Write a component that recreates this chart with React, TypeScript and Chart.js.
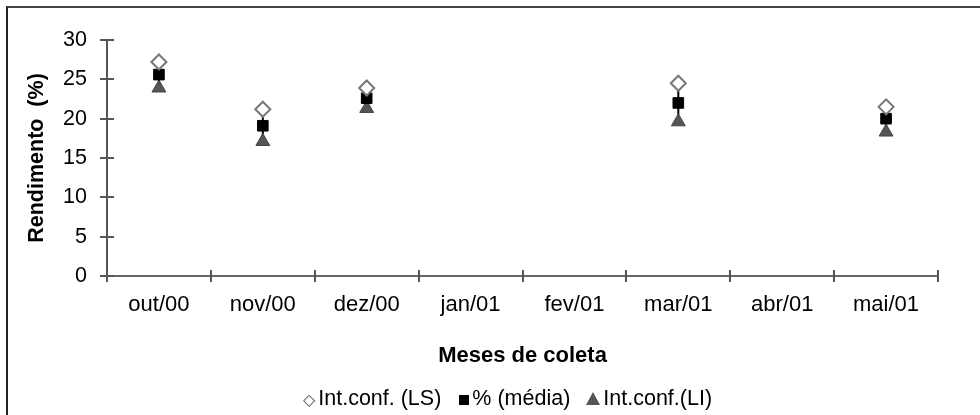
import React, { useEffect, useRef } from "react";
import { Chart, registerables } from "chart.js";

Chart.register(...registerables);

const categories = ["out/00", "nov/00", "dez/00", "jan/01", "fev/01", "mar/01", "abr/01", "mai/01"];
const upperLS = [27.2, 21.2, 23.9, null, null, 24.5, null, 21.5];
const mean = [25.6, 19.1, 22.6, null, null, 22.0, null, 20.0];
const lowerLI = [23.9, 17.1, 21.3, null, null, 19.6, null, 18.3];
const yTicks = [0, 5, 10, 15, 20, 25, 30];
const legendLabels = ["Int.conf. (LS)", "% (média)", "Int.conf.(LI)"];

const FONT = "'Liberation Sans', Arial, sans-serif";

const rangeLines = {
  id: "rangeLines",
  beforeDatasetsDraw(chart: any) {
    const { ctx, scales } = chart;
    const x = scales.x;
    const y = scales.y;
    ctx.save();
    ctx.strokeStyle = "#000";
    ctx.lineWidth = 2;
    for (let i = 0; i < categories.length; i++) {
      const hi = upperLS[i];
      const lo = lowerLI[i];
      if (hi == null || lo == null) continue;
      const px = x.getPixelForValue(i);
      ctx.beginPath();
      ctx.moveTo(px, y.getPixelForValue(hi));
      ctx.lineTo(px, y.getPixelForValue(lo));
      ctx.stroke();
    }
    ctx.restore();
  },
};

const crossTicks = {
  id: "crossTicks",
  afterDraw(chart: any) {
    const { ctx, scales, chartArea } = chart;
    const x = scales.x;
    const y = scales.y;
    ctx.save();
    ctx.strokeStyle = "#555";
    ctx.lineWidth = 2;
    ctx.beginPath();
    for (const v of yTicks) {
      const py = Math.round(y.getPixelForValue(v));
      ctx.moveTo(chartArea.left - 7, py);
      ctx.lineTo(chartArea.left + 7, py);
    }
    for (let i = 0; i <= categories.length; i++) {
      const px = Math.round(x.getPixelForValue(i - 0.5));
      ctx.moveTo(px, chartArea.bottom - 6);
      ctx.lineTo(px, chartArea.bottom + 6);
    }
    ctx.stroke();
    ctx.restore();
  },
};

export default function App() {
  const ref = useRef<HTMLCanvasElement | null>(null);
  useEffect(() => {
    if (!ref.current) return;
    const chart = new Chart(ref.current, {
      type: "line",
      data: {
        labels: categories,
        datasets: [
          {
            label: legendLabels[0],
            data: upperLS,
            showLine: false,
            pointStyle: "rectRot",
            pointRadius: 7.5,
            pointBackgroundColor: "#fff",
            pointBorderColor: "#777",
            pointBorderWidth: 2,
          },
          {
            label: legendLabels[1],
            data: mean,
            showLine: false,
            pointStyle: "rect",
            pointRadius: 7.5,
            pointBackgroundColor: "#000",
            pointBorderColor: "#000",
            pointBorderWidth: 1,
          },
          {
            label: legendLabels[2],
            data: lowerLI,
            showLine: false,
            pointStyle: "triangle",
            pointRadius: 8,
            pointBackgroundColor: "#555",
            pointBorderColor: "#444",
            pointBorderWidth: 1,
          },
        ] as any,
      },
      options: {
        animation: false,
        responsive: false,
        maintainAspectRatio: false,
        layout: { padding: { left: 0, right: 42, top: 40, bottom: 0 } },
        plugins: { legend: { display: false }, tooltip: { enabled: false } },
        scales: {
          x: {
            offset: true,
            afterFit: (s: any) => {
              s.height = 139;
            },
            grid: { display: false, drawTicks: false, offset: true },
            border: { display: true, color: "#666", width: 2 },
            ticks: { color: "#000", padding: 16, font: { family: FONT, size: 22 } },
            title: {
              display: true,
              text: "Meses de coleta",
              color: "#000",
              font: { family: FONT, size: 22, weight: "bold" },
              padding: { top: 0, bottom: 46 },
            },
          },
          y: {
            min: 0,
            max: 30,
            afterFit: (s: any) => {
              s.width = 107;
            },
            afterBuildTicks: (s: any) => {
              s.ticks = yTicks.map((v) => ({ value: v }));
            },
            grid: { display: false, drawTicks: false },
            border: { display: true, color: "#555", width: 2 },
            ticks: { color: "#000", padding: 20, font: { family: FONT, size: 21.5 } },
            title: {
              display: true,
              text: "Rendimento  (%)",
              color: "#000",
              font: { family: FONT, size: 21.5, weight: "bold" },
              padding: { top: 24, bottom: 0 },
            },
          },
        },
      },
      plugins: [rangeLines, crossTicks],
    });
    return () => chart.destroy();
  }, []);

  const sym = { display: "inline-block", marginRight: 3 } as React.CSSProperties;
  return (
    <div style={{ position: "absolute", left: 0, top: 0, width: 980, height: 415, overflow: "hidden", background: "#fff" }}>
      <div
        style={{
          position: "absolute",
          left: 6,
          top: 6,
          width: 1000,
          height: 500,
          borderLeft: "2px solid #222",
          borderTop: "2px solid #444",
        }}
      />
      <canvas ref={ref} width={980} height={415} style={{ position: "absolute", left: 0, top: 0 }} />
      <div
        style={{
          position: "absolute",
          left: 0,
          width: 1015,
          top: 384,
          textAlign: "center",
          fontFamily: FONT,
          fontSize: 21.5,
          color: "#000",
          whiteSpace: "nowrap",
          lineHeight: "28px",
        }}
      >
        <span style={{ ...sym, color: "#555", fontFamily: "'DejaVu Sans'", fontSize: 16 }}>◇</span>
        <span>{legendLabels[0]}</span>
        <span style={{ ...sym, marginLeft: 18, width: 10, height: 10, background: "#000" }} />
        <span>{legendLabels[1]}</span>
        <span
          style={{
            ...sym,
            marginLeft: 16,
            width: 0,
            height: 0,
            borderLeft: "7px solid transparent",
            borderRight: "7px solid transparent",
            borderBottom: "13px solid #555",
          }}
        />
        <span>{legendLabels[2]}</span>
      </div>
    </div>
  );
}
